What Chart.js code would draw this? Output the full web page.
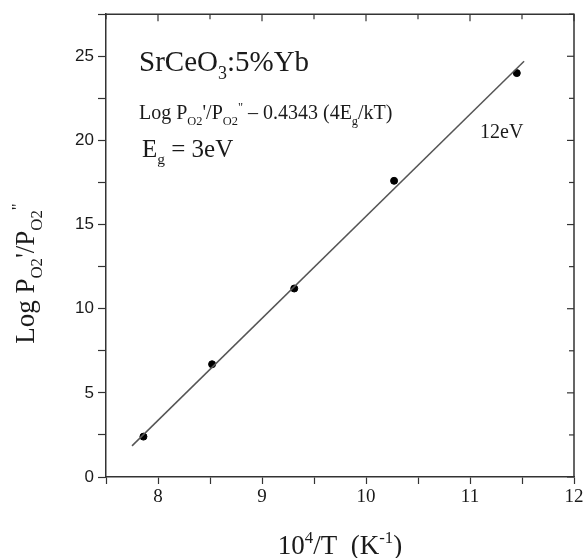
<!DOCTYPE html>
<html>
<head>
<meta charset="utf-8">
<script src="https://cdn.jsdelivr.net/npm/chart.js@4.4.1/dist/chart.umd.min.js"></script>
<style>
  body { margin: 0; background: #fff; }
  canvas { display: block; }
</style>
</head>
<body>
<canvas id="arrheniusChart" width="586" height="558"></canvas>
<script>
const ctx = document.getElementById("arrheniusChart");

// measured points (10^4/T, log PO2'/PO2")
const invT = [7.86, 8.52, 9.31, 10.27, 11.45];
const logRatio = [2.4, 6.7, 11.2, 17.6, 24.0];

// fitted line ends
const fitX = [7.75, 11.52];
const fitY = [1.85, 24.7];

const xRange = [7.5, 12];
const yRange = [0, 27.5];

const SERIF = "'Liberation Serif', 'DejaVu Serif', serif";
const SANS = "'Liberation Sans', Arial, sans-serif";
const INK = "#1a1a1a";
const AXIS = "#333";

// parts: [text, kind] kind: 0 normal, 1 subscript, -1 superscript
function richWidth(c, parts, size) {
  let w = 0;
  for (const [t, k] of parts) {
    c.font = (k ? size * 0.62 : size) + "px " + SERIF;
    w += c.measureText(t).width;
  }
  return w;
}

function drawRich(c, x, y, parts, size) {
  c.textAlign = "left";
  c.textBaseline = "alphabetic";
  let cx = x;
  for (const [t, k] of parts) {
    const s = k ? size * 0.62 : size;
    c.font = s + "px " + SERIF;
    const dy = k === 1 ? size * 0.28 : k === -1 ? -size * 0.42 : 0;
    c.fillText(t, cx, y + dy);
    cx += c.measureText(t).width;
  }
}

const framePlugin = {
  id: "frame",
  afterDraw(chart) {
    const c = chart.ctx;
    const a = chart.chartArea;
    const xs = chart.scales.x;
    const ys = chart.scales.y;
    c.save();
    c.strokeStyle = AXIS;
    c.lineWidth = 1.5;
    c.beginPath();
    c.moveTo(a.left, a.top);
    c.lineTo(a.right, a.top);
    c.lineTo(a.right, a.bottom);
    c.stroke();
    // inward ticks on top and right
    c.lineWidth = 1.2;
    for (const t of xs.ticks) {
      const px = xs.getPixelForValue(t.value);
      const len = Number.isInteger(t.value) ? 7 : 5;
      c.beginPath();
      c.moveTo(px, a.top);
      c.lineTo(px, a.top + len);
      c.stroke();
    }
    for (const t of ys.ticks) {
      const py = ys.getPixelForValue(t.value);
      const len = t.value % 5 === 0 ? 7 : 5;
      c.beginPath();
      c.moveTo(a.right, py);
      c.lineTo(a.right - len, py);
      c.stroke();
    }

    c.fillStyle = INK;
    drawRich(c, a.left + 33, a.top + 57, [["SrCeO", 0], ["3", 1], [":5%Yb", 0]], 29);
    drawRich(c, a.left + 33, a.top + 105,
      [["Log P", 0], ["O2", 1], ["'/P", 0], ["O2", 1], ["\"", -1], [" \u2013 0.4343 (4E", 0], ["g", 1], ["/kT)", 0]], 20);
    drawRich(c, a.left + 36, a.top + 143, [["E", 0], ["g", 1], [" = 3eV", 0]], 25);
    drawRich(c, a.left + 374, a.top + 124, [["12eV", 0]], 20);

    // axis titles
    const xt = [["10", 0], ["4", -1], ["/T  (K", 0], ["-1", -1], [")", 0]];
    const xw = richWidth(c, xt, 27);
    drawRich(c, (a.left + a.right) / 2 - xw / 2, 554, xt, 27);

    const yt = [["Log P", 0], ["O2", 1], ["'/P", 0], ["O2", 1], ["\"", -1]];
    const yw = richWidth(c, yt, 27);
    c.translate(34, (a.top + a.bottom) / 2 + 28);
    c.rotate(-Math.PI / 2);
    drawRich(c, -yw / 2, 0, yt, 27);
    c.restore();
  },
};

new Chart(ctx, {
  type: "scatter",
  data: {
    datasets: [
      {
        label: "fit",
        data: fitX.map((x, i) => ({ x: x, y: fitY[i] })),
        showLine: true,
        borderColor: "#555",
        borderWidth: 1.5,
        pointRadius: 0,
      },
      {
        label: "data",
        data: invT.map((x, i) => ({ x: x, y: logRatio[i] })),
        backgroundColor: "#000",
        borderColor: "#000",
        pointRadius: 3.5,
      },
    ],
  },
  plugins: [framePlugin],
  options: {
    responsive: false,
    animation: false,
    layout: { padding: { top: 13, right: 12, left: 0, bottom: 0 } },
    plugins: {
      legend: { display: false },
      tooltip: { enabled: false },
    },
    scales: {
      x: {
        type: "linear",
        min: xRange[0],
        max: xRange[1],
        afterFit: (scale) => { scale.height = 81; },
        border: { color: AXIS, width: 1.5 },
        grid: { drawOnChartArea: false, tickLength: 7, color: AXIS, tickWidth: 1.2 },
        ticks: {
          stepSize: 0.5,
          autoSkip: false,
          maxRotation: 0,
          padding: 2,
          color: INK,
          font: { family: SERIF, size: 19 },
          callback: (v) => (Number.isInteger(v) ? String(v) : ""),
        },
      },
      y: {
        min: yRange[0],
        max: yRange[1],
        afterFit: (scale) => { scale.width = 106; },
        border: { color: AXIS, width: 1.5 },
        grid: { drawOnChartArea: false, tickLength: 8, color: AXIS, tickWidth: 1.2 },
        ticks: {
          stepSize: 2.5,
          autoSkip: false,
          padding: 4,
          color: INK,
          font: { family: SANS, size: 17 },
          callback: (v) => (v % 5 === 0 ? String(v) : ""),
        },
      },
    },
  },
});
</script>
</body>
</html>
